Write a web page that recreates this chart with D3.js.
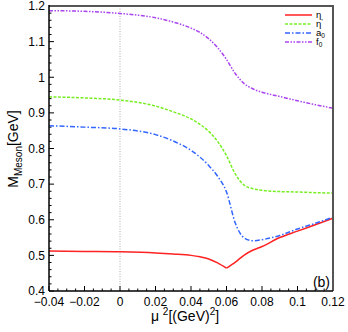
<!DOCTYPE html>
<html>
<head>
<meta charset="utf-8">
<script src="https://cdn.jsdelivr.net/npm/d3@7"></script>
<style>
  html, body { margin: 0; padding: 0; background: #fff; }
  svg { display: block; }
  text { font-family: "Liberation Sans", Arial, sans-serif; fill: #000; }
</style>
</head>
<body>
<svg id="chart" width="348" height="332"></svg>
<script>
// ---- data ----
const mu2 = [-0.04, -0.02, 0, 0.02, 0.03, 0.04, 0.045, 0.05, 0.055, 0.06, 0.065, 0.07, 0.075, 0.08, 0.09, 0.1, 0.11, 0.12];
const eta     = [0.512, 0.511, 0.510, 0.507, 0.504, 0.500, 0.496, 0.490, 0.479, 0.464, 0.481, 0.501, 0.515, 0.525, 0.550, 0.568, 0.586, 0.604];
const etaP    = [0.945, 0.942, 0.936, 0.919, 0.903, 0.883, 0.868, 0.848, 0.820, 0.780, 0.728, 0.697, 0.687, 0.683, 0.679, 0.678, 0.676, 0.675];
const a0      = [0.864, 0.860, 0.855, 0.839, 0.821, 0.795, 0.776, 0.752, 0.722, 0.678, 0.590, 0.549, 0.541, 0.544, 0.556, 0.574, 0.590, 0.607];
const f0      = [1.187, 1.185, 1.179, 1.167, 1.155, 1.138, 1.126, 1.108, 1.083, 1.050, 1.010, 0.982, 0.967, 0.958, 0.946, 0.934, 0.923, 0.913];
const xTicks = [-0.04, -0.02, 0, 0.02, 0.04, 0.06, 0.08, 0.1, 0.12];
const yTicks = [0.4, 0.5, 0.6, 0.7, 0.8, 0.9, 1, 1.1, 1.2];
const seriesNames = ["η", "η'", "a0", "f0"];

// ---- layout ----
const svg = d3.select("#chart");
const L = 49, T = 6, R = 333, B = 291;
const x = d3.scaleLinear().domain([-0.04, 0.12]).range([L, R]);
const y = d3.scaleLinear().domain([0.4, 1.2]).range([B, T]);

// dotted line at 0
svg.append("line").attr("x1", x(0)).attr("x2", x(0)).attr("y1", T).attr("y2", B)
  .attr("stroke", "#999").attr("stroke-width", 0.8).attr("stroke-dasharray", "1,1.5");

// minor/major ticks (inward)
const yMinor = d3.range(0.4, 1.2001, 0.02);
svg.append("g").selectAll("line").data(yMinor).join("line")
  .attr("x1", L).attr("x2", d => L + (Math.abs(Math.round(d * 10) - d * 10) < 1e-6 ? 5 : 2.5))
  .attr("y1", d => y(d)).attr("y2", d => y(d)).attr("stroke", "#000").attr("stroke-width", 1);
const xMinor = d3.range(-0.04, 0.12001, 0.005);
svg.append("g").selectAll("line").data(xMinor).join("line")
  .attr("x1", d => x(d)).attr("x2", d => x(d)).attr("y1", B)
  .attr("y2", d => B - (Math.abs(Math.round(d * 50) - d * 50) < 1e-6 ? 5 : 2.5))
  .attr("stroke", "#000").attr("stroke-width", 1);

// tick labels
svg.append("g").selectAll("text").data(yTicks).join("text")
  .attr("x", L - 4).attr("y", d => y(d) + 4.3).attr("text-anchor", "end")
  .attr("font-size", 12).text(d => d3.format("~g")(d));
svg.append("g").selectAll("text").data(xTicks).join("text")
  .attr("x", d => x(d)).attr("y", 305.5).attr("text-anchor", "middle")
  .attr("font-size", 12).text(d => d3.format("~g")(d));

// curves
const colors = ["#ff2222", "#77ee22", "#3366ff", "#aa44ee"];
const dashes = [null, "3,1.5", "5,2,1.5,2", "4,1.5,1.5,1.5,1.5,1.5"];
const vals = [eta, etaP, a0, f0];
const line = d3.line().x(d => x(d[0])).y(d => y(d[1])).curve(d3.curveMonotoneX);
vals.forEach((v, i) => {
  const pts = mu2.map((m, j) => [m, v[j]]);
  let parts = [pts];
  if (i === 0) { // cusp at minimum
    const k = v.indexOf(d3.min(v));
    parts = [pts.slice(0, k + 1), pts.slice(k)];
  }
  parts.forEach(p => {
    svg.append("path").attr("d", line(p)).attr("fill", "none")
      .attr("stroke", colors[i]).attr("stroke-width", 1.5)
      .attr("stroke-dasharray", dashes[i]);
  });
});

// frame
svg.append("line").attr("x1", L).attr("x2", R + 1).attr("y1", T).attr("y2", T).attr("stroke", "#555").attr("stroke-width", 2);
svg.append("line").attr("x1", R).attr("x2", R).attr("y1", T).attr("y2", B).attr("stroke", "#555").attr("stroke-width", 2);
svg.append("line").attr("x1", L).attr("x2", L).attr("y1", T - 1).attr("y2", B).attr("stroke", "#000").attr("stroke-width", 1.5);
svg.append("line").attr("x1", L).attr("x2", R).attr("y1", B).attr("y2", B).attr("stroke", "#000").attr("stroke-width", 1.5);

// legend
const lg = svg.append("g");
seriesNames.forEach((n, i) => {
  const ly = 15 + i * 9;
  lg.append("line").attr("x1", 285).attr("x2", 312).attr("y1", ly).attr("y2", ly)
    .attr("stroke", colors[i]).attr("stroke-width", 1.5).attr("stroke-dasharray", dashes[i]);
  const t = lg.append("text").attr("x", 316).attr("y", ly + 3.2).attr("font-size", 9.5);
  if (n === "a0" || n === "f0") {
    t.append("tspan").text(n[0]);
    t.append("tspan").attr("font-size", 6.5).attr("dy", 2).text("0");
  } else if (n === "η'") {
    t.append("tspan").text("η");
    t.append("tspan").attr("font-size", 8).attr("dy", -3).text("'");
  } else {
    t.text(n);
  }
});

// (b)
svg.append("text").attr("x", 330).attr("y", 286.5).attr("text-anchor", "end").attr("font-size", 14).text("(b)");

// axis titles
const xt = svg.append("text").attr("x", 185).attr("y", 321).attr("text-anchor", "middle").attr("font-size", 14);
xt.append("tspan").text("μ ");
xt.append("tspan").attr("font-size", 10).attr("dy", -6).text("2");
xt.append("tspan").attr("dy", 6).text("[(GeV)");
xt.append("tspan").attr("font-size", 10).attr("dy", -6).text("2");
xt.append("tspan").attr("dy", 6).text("]");

const yt = svg.append("text").attr("transform", "translate(18,149) rotate(-90)").attr("text-anchor", "middle").attr("font-size", 14);
yt.append("tspan").text("M");
yt.append("tspan").attr("font-size", 10).attr("dy", 4).text("Meson");
yt.append("tspan").attr("dy", -4).text("[GeV]");
</script>
</body>
</html>
